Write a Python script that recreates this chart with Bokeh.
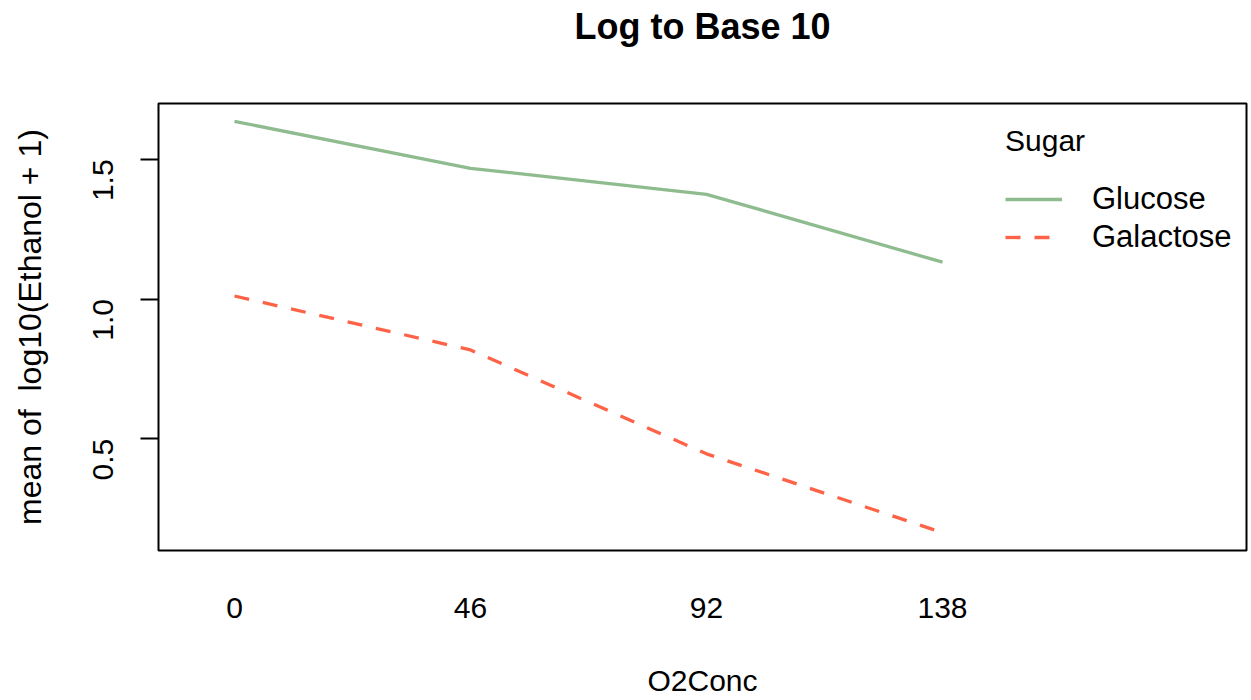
from bokeh.plotting import figure
from bokeh.models import Range1d, FixedTicker, Legend, LegendItem, ColumnDataSource, Title
from bokeh.embed import file_html
from bokeh.resources import INLINE
import math

# data
o2conc = ["0", "46", "92", "138"]
glucose = [1.636, 1.468, 1.375, 1.132]
galactose = [1.011, 0.818, 0.446, 0.164]
y_ticks = [0.5, 1.0, 1.5]
y_tick_labels = ["0.5", "1.0", "1.5"]

xs = list(range(1, len(o2conc) + 1))
FONT = "Liberation Sans"
X0, X1 = 0.678, 5.288

p = figure(width=1251, height=700, output_backend="svg", toolbar_location=None,
           x_range=Range1d(X0, X1), y_range=Range1d(0.1, 1.7),
           min_border_left=158, min_border_right=5, min_border_top=102, min_border_bottom=150)
p.title = None
# blank spacer between the frame and the title (first "above" item sits next to the frame)
p.add_layout(Title(text="\u00a0", text_font=FONT, text_font_size="36px", standoff=11), "above")
p.add_layout(Title(text="Log to Base 10", align="center",
                   text_font=FONT, text_font_size="36px", text_font_style="bold",
                   text_color="black", standoff=6), "above")

p.grid.visible = False
p.outline_line_color = "black"
p.outline_line_width = 2
p.background_fill_color = "white"
p.border_fill_color = "white"

src_g = ColumnDataSource(dict(x=xs, y=glucose))
src_a = ColumnDataSource(dict(x=xs, y=galactose))
r1 = p.line("x", "y", source=src_g, line_color="#8FBC8F", line_width=3.3)
r2 = p.line("x", "y", source=src_a, line_color="#FF6347", line_width=3.3, line_dash="15 14")

# x axis
xa = p.xaxis[0]
xa.ticker = FixedTicker(ticks=xs)
xa.major_label_overrides = {x: lab for x, lab in zip(xs, o2conc)}
xa.axis_line_color = None
xa.major_tick_line_color = None
xa.minor_tick_line_color = None
xa.major_tick_out = 0
xa.major_label_standoff = 47
xa.major_label_text_font = FONT
xa.major_label_text_font_size = "30px"
xa.major_label_text_color = "black"
xa.axis_label = "O2Conc"
xa.axis_label_text_font = FONT
xa.axis_label_text_font_size = "30px"
xa.axis_label_text_font_style = "normal"
xa.axis_label_text_color = "black"
xa.axis_label_standoff = 43

# y axis
ya = p.yaxis[0]
ya.ticker = FixedTicker(ticks=y_ticks)
ya.major_label_overrides = {v: lab for v, lab in zip(y_ticks, y_tick_labels)}
ya.axis_line_color = None
ya.minor_tick_line_color = None
ya.major_tick_out = 18
ya.major_tick_in = 0
ya.major_tick_line_width = 2
ya.major_tick_line_color = "black"
ya.major_label_orientation = math.pi / 2
ya.major_label_standoff = 38
ya.major_label_text_font = FONT
ya.major_label_text_font_size = "30px"
ya.major_label_text_color = "black"
ya.axis_label = "mean of\u00a0 log10(Ethanol + 1)"
ya.axis_label_text_font = FONT
ya.axis_label_text_font_size = "32px"
ya.axis_label_text_font_style = "normal"
ya.axis_label_text_color = "black"
ya.axis_label_standoff = 32

legend = Legend(items=[LegendItem(label="Glucose", renderers=[r1]),
                       LegendItem(label="Galactose", renderers=[r2])],
                location=(847, 294), title="Sugar",
                title_text_font=FONT, title_text_font_size="30px", title_text_font_style="normal",
                title_text_color="black", title_standoff=22,
                label_text_font=FONT, label_text_font_size="31px", label_text_color="black",
                glyph_width=57, glyph_height=38, label_height=38, label_standoff=30,
                spacing=0, padding=0, margin=0,
                border_line_alpha=0, background_fill_alpha=0)
p.add_layout(legend)

open("out.html", "w").write(file_html(p, INLINE))
